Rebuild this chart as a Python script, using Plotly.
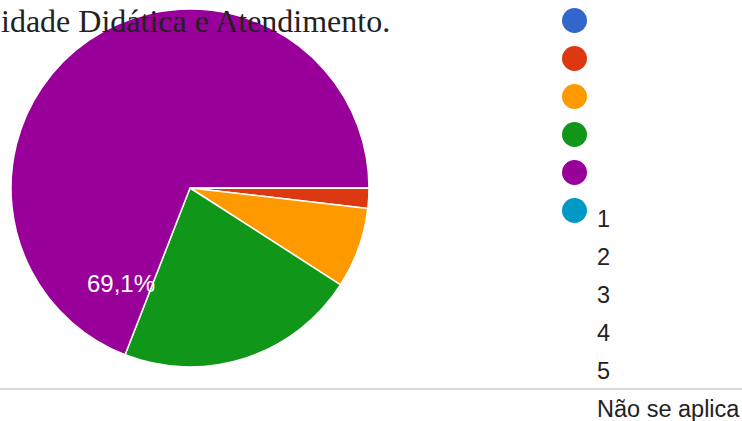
import plotly.graph_objects as go

W, H = 742, 421

categories = ["1", "2", "3", "4", "5", "Não se aplica"]
counts = [0, 1, 4, 12, 38, 0]
colors = ["#3366cc", "#dc3912", "#ff9900", "#109618", "#990099", "#0099c6"]
title_text = "idade Didática e Atendimento."
shown_label = "69,1%"

def px_x(x):
    return x / W

def px_y(y):
    return 1 - y / H

fig = go.Figure()

fig.add_trace(go.Pie(
    labels=categories,
    values=counts,
    marker=dict(colors=colors, line=dict(color="white", width=1.5)),
    sort=False,
    direction="clockwise",
    rotation=90,
    textinfo="none",
    hoverinfo="label+percent",
    showlegend=False,
    domain=dict(x=[px_x(11), px_x(369)], y=[px_y(367), px_y(9)]),
))

shapes = []
annotations = []

# legend markers and labels (labels offset one row below the markers, as in the reference)
for i, (cat, col) in enumerate(zip(categories, colors)):
    cy = 20.5 + 38 * i
    shapes.append(dict(
        type="circle", xref="paper", yref="paper",
        xsizemode="pixel", ysizemode="pixel",
        xanchor=px_x(574.5), yanchor=px_y(cy),
        x0=-12.5, x1=12.5, y0=-12.5, y1=12.5,
        fillcolor=col, line=dict(width=0),
    ))
    ly = 218 + 38 * i
    annotations.append(dict(
        text=cat, xref="paper", yref="paper",
        x=px_x(594.5), y=px_y(ly + 1), xanchor="left", yanchor="middle",
        showarrow=False,
        font=dict(family="Liberation Sans, Arial", size=23.5, color="#222222"),
    ))

# separator line
shapes.append(dict(
    type="line", xref="paper", yref="paper",
    x0=0, x1=1, y0=px_y(389), y1=px_y(389),
    line=dict(color="#d9d9d9", width=2),
))

# title (cut off at the left in the reference)
annotations.append(dict(
    text=title_text, xref="paper", yref="paper",
    x=px_x(-1), y=px_y(21), xanchor="left", yanchor="middle",
    showarrow=False,
    font=dict(family="Liberation Serif, Times New Roman", size=32, color="#222222"),
))

# slice label
annotations.append(dict(
    text=shown_label, xref="paper", yref="paper",
    x=px_x(121), y=px_y(283), xanchor="center", yanchor="middle",
    showarrow=False,
    font=dict(family="Liberation Sans, Arial", size=24, color="white"),
))

fig.update_layout(
    width=W, height=H,
    margin=dict(l=0, r=0, t=0, b=0),
    paper_bgcolor="white", plot_bgcolor="white",
    shapes=shapes, annotations=annotations,
    showlegend=False,
)

fig.write_html("out.html", config={"displayModeBar": False})
